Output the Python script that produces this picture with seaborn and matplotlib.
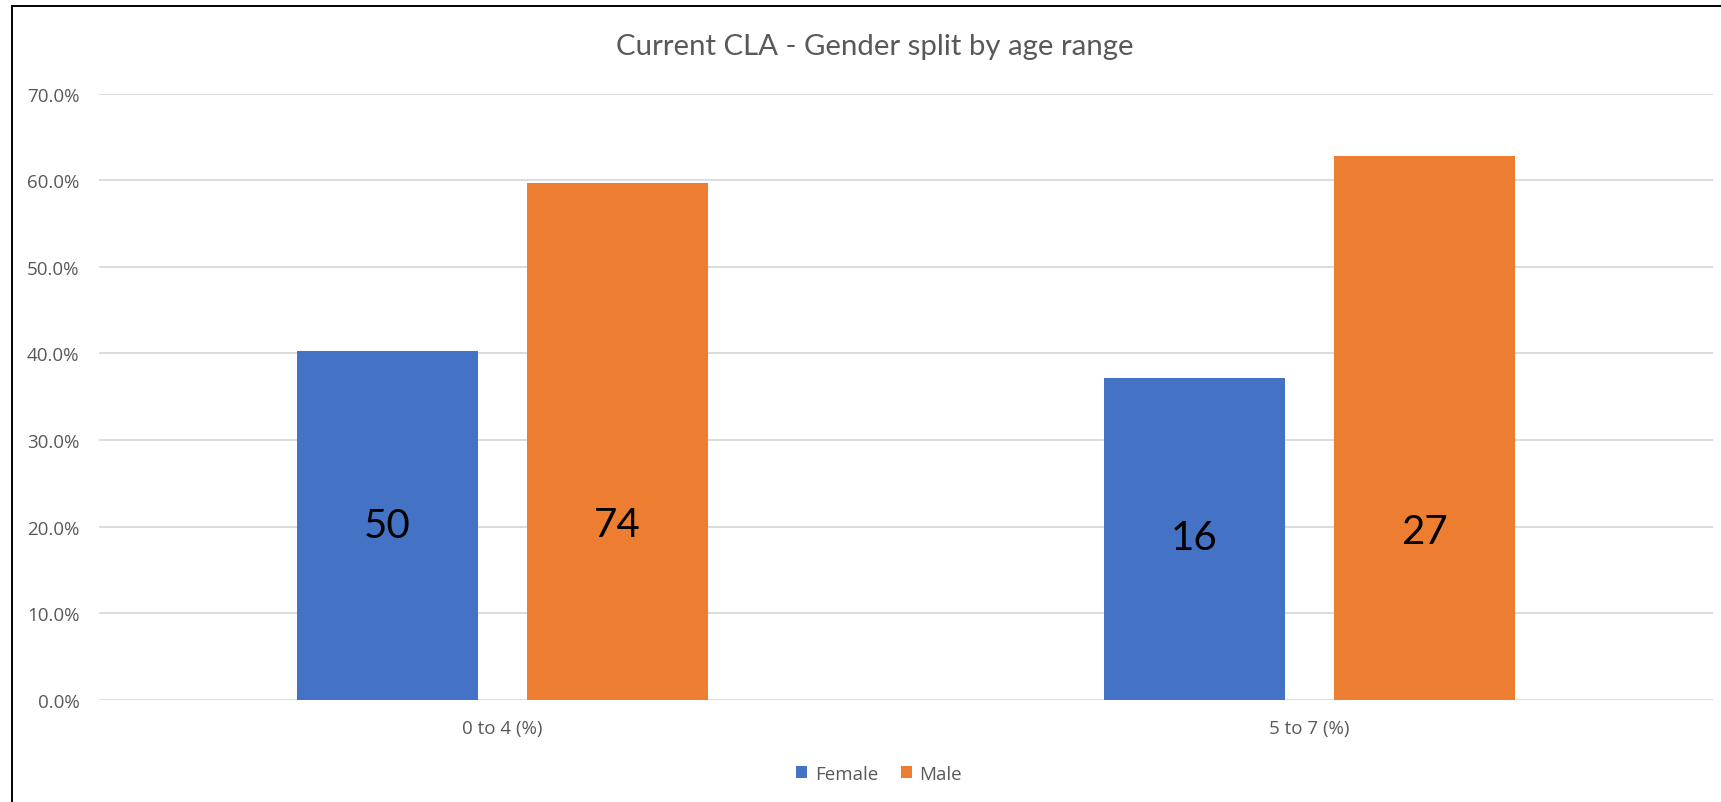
import matplotlib
matplotlib.use("Agg")
import matplotlib.pyplot as plt
import matplotlib.ticker as mticker
from matplotlib.patches import Rectangle
import seaborn as sns
import pandas as pd

# ---- data ----
age_ranges = ["0 to 4 (%)", "5 to 7 (%)"]
genders = ["Female", "Male"]
female_pct = [40.3, 37.2]
male_pct = [59.7, 62.8]
female_counts = [50, 16]
male_counts = [74, 27]
title = "Current CLA - Gender split by age range"

colors = ["#4472C4", "#ED7D31"]
text_grey = "#595959"

df = pd.DataFrame({
    "age": age_ranges * 2,
    "gender": [genders[0]] * 2 + [genders[1]] * 2,
    "pct": female_pct + male_pct,
})

sns.set_theme(style="white")
plt.rcParams["font.family"] = ["Open Sans", "DejaVu Sans"]

fig = plt.figure(figsize=(17.21, 8.03), dpi=100)
ax = fig.add_axes([0.0574, 0.1270, 0.9378, 0.7553])

sns.barplot(data=df, x="age", y="pct", hue="gender", hue_order=genders,
            palette=colors, saturation=1, width=0.570, gap=0.213,
            linewidth=0, ax=ax)

ax.set_ylim(0, 70)
ax.set_xlim(-0.5, 1.5)
ax.yaxis.set_major_locator(mticker.MultipleLocator(10))
ax.yaxis.set_major_formatter(mticker.FuncFormatter(lambda v, p: f"{v:.1f}%"))
ax.yaxis.grid(True, color="#d9d9d9", linewidth=1.3)
ax.set_axisbelow(True)
for s in ax.spines.values():
    s.set_visible(False)
ax.set_xlabel("")
ax.set_ylabel("")
ax.tick_params(axis="y", length=0, pad=14, labelsize=13.5, labelcolor=text_grey)
ax.tick_params(axis="x", length=0, pad=14, labelsize=13.5, labelcolor=text_grey)

# count labels inside the bars (text-box positions)
label_y = [[20.1, 18.8], [20.2, 19.5]]
counts = [female_counts, male_counts]
for cont, cnts, ys in zip(ax.containers, counts, label_y):
    for bar, c, yv in zip(cont, cnts, ys):
        ax.text(bar.get_x() + bar.get_width() / 2, yv, str(c),
                ha="center", va="center", fontsize=29, color="black",
                family=["Lato", "DejaVu Sans"])

# legend
sns.move_legend(ax, "center", bbox_to_anchor=(0.4835, -0.122), ncol=2,
                frameon=False, title=None, fontsize=13.5,
                handlelength=0.6, handleheight=0.6, columnspacing=1.2,
                handletextpad=0.4, labelcolor=text_grey)

fig.text(0.508, 0.9415, title, ha="center", va="center", fontsize=21.2,
         color=text_grey, family=["Lato", "DejaVu Sans"])

# outer chart border (right and bottom edges fall outside the picture)
fig.patches.append(Rectangle((12 / 1721, -0.05), 1.0, 1.05 - 7 / 803,
                             transform=fig.transFigure, fill=False,
                             edgecolor="black", linewidth=1.4, zorder=10))

fig.savefig("out.png", dpi=100)
